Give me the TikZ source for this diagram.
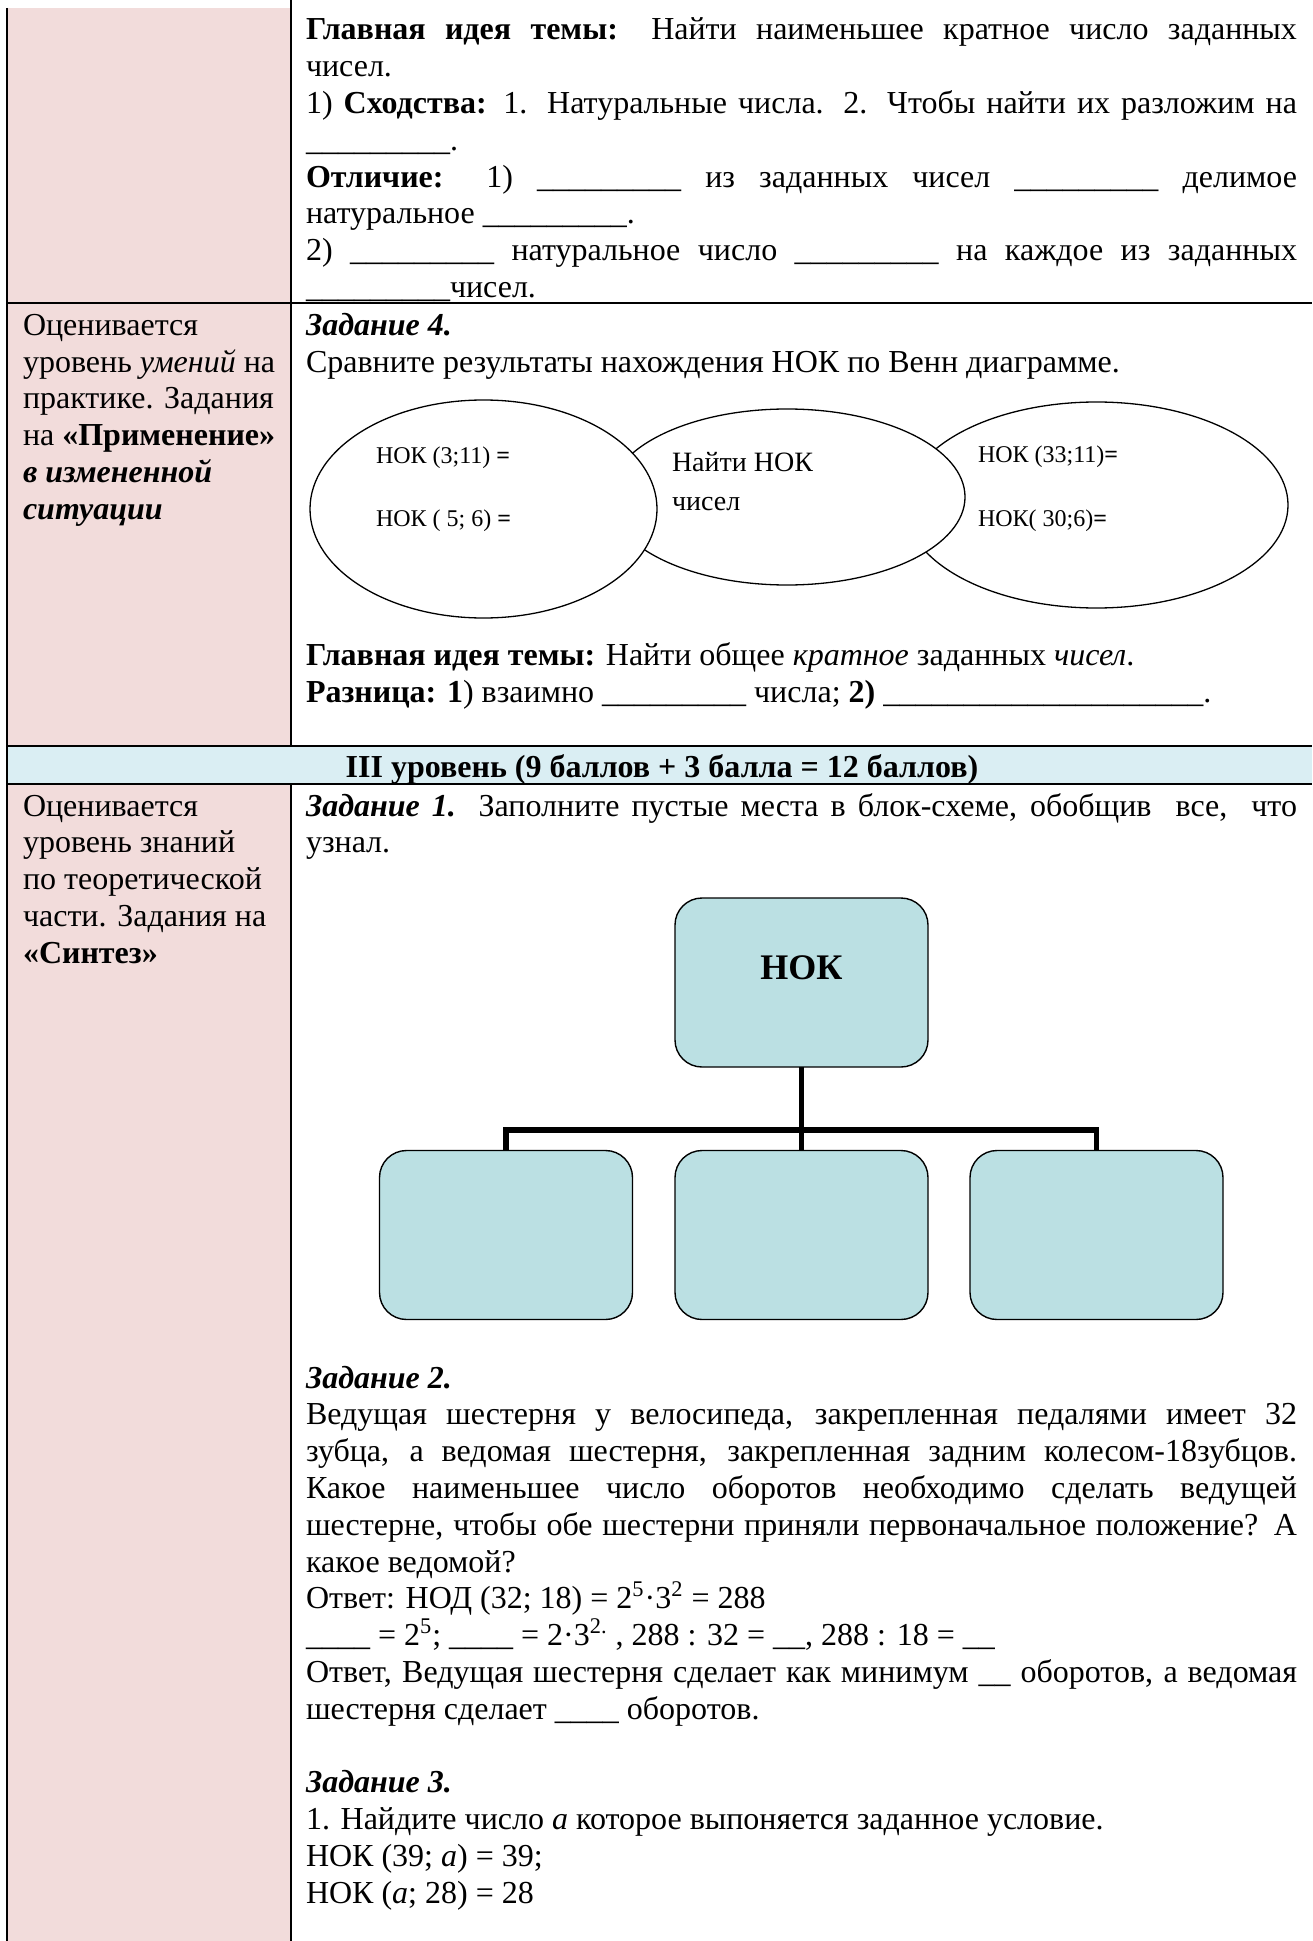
\documentclass[tikz,border=0pt]{standalone}
\usepackage{fontspec}
\setmainfont{Liberation Serif}
\usetikzlibrary{shapes.geometric}
\definecolor{cellpink}{HTML}{F2DCDB}
\definecolor{headblue}{HTML}{DAEEF3}
\definecolor{boxteal}{HTML}{BBE0E3}
\newcommand\mainfs{\fontsize{16pt}{18.4pt}\selectfont}
\newcommand\vennfs{\fontsize{12pt}{14pt}\selectfont}
% one justified line of the wide column
\newcommand\jl[1]{\hbox to 495.5pt{#1}}
% nine underscores, a blank to fill in
\newcommand\bl{\_\_\_\_\_\_\_\_\_}
\begin{document}
\begin{tikzpicture}[x=0.5pt, y=-0.5pt,
  txt/.style={anchor=base west, inner sep=0pt, outer sep=0pt, font=\mainfs},
  rule/.style={line width=0.75pt, black},
  venn/.style={ellipse, draw, fill=white, line width=0.65pt, inner sep=0pt, outer sep=0pt},
  vtxt/.style={anchor=base west, inner sep=0pt, outer sep=0pt, font=\vennfs},
  fbox/.style={rectangle, draw, fill=boxteal, line width=0.7pt, rounded corners=13.5pt,
               minimum width=126.5pt, minimum height=84.5pt, inner sep=0pt, outer sep=0pt},
  conn/.style={line width=2.7pt, black}]
\useasboundingbox (0,0) rectangle (1312,1941);

% table cells
\fill[cellpink] (7,8) rectangle (291,746);
\fill[cellpink] (7,784) rectangle (291,1941);
\fill[headblue] (7,746) rectangle (1312,784);
\draw[rule] (7,8) -- (7,1941);
\draw[rule] (291,0) -- (291,746);
\draw[rule] (291,784) -- (291,1941);
\draw[rule] (7,303) -- (1312,303);
\draw[rule] (7,746) -- (1312,746);
\draw[rule] (7,784) -- (1312,784);

% first row: end of the previous task
\node[txt] (a1) at (306,40) {\jl{\textbf{Главная идея темы:} Найти наименьшее кратное число заданных}};
\node[txt] (a2) at (306,76.8) {чисел.};
\node[txt] (a3) at (306,113.6) {\jl{1) \textbf{Сходства:} 1. Натуральные числа. 2. Чтобы найти их разложим на}};
\node[txt] (a4) at (306,150.4) {\bl.};
\node[txt] (a5) at (306,187.2) {\jl{\textbf{Отличие:} 1) \bl{} из заданных чисел \bl{} делимое}};
\node[txt] (a6) at (306,224) {натуральное \bl.};
\node[txt] (a7) at (306,260.8) {\jl{2) \bl{} натуральное число \bl{} на каждое из заданных}};
\node[txt] (a8) at (306,297.6) {\bl чисел.};

% second row
\node[txt] (b1) at (23,335.5) {Оценивается};
\node[txt] (b2) at (23,372.2) {уровень \textit{умений} на};
\node[txt] (b3) at (23,408.9) {практике. Задания};
\node[txt] (b4) at (23,445.6) {на \textbf{«Применение»}};
\node[txt] (b5) at (23,482.3) {\textbf{\textit{в измененной}}};
\node[txt] (b6) at (23,519) {\textbf{\textit{ситуации}}};

\node[txt] (c1) at (306,335.5) {\textbf{\textit{Задание 4.}}};
\node[txt] (c2) at (306,372.2) {Сравните результаты нахождения НОК по Венн диаграмме.};

% Venn diagram
\node[venn, minimum width=191.5pt, minimum height=103pt] (vr) at (1096.5,505) {};
\node[venn, minimum width=178pt, minimum height=88pt] (vm) at (787,497) {};
\node[venn, minimum width=173.5pt, minimum height=109pt] (vl) at (483.5,509) {};
\node[vtxt] (v1) at (376,464) {НОК (3;11) \textbf{=}};
\node[vtxt] (v2) at (376,526) {НОК ( 5; 6) \textbf{=}};
\node[txt, font=\fontsize{14pt}{16pt}\selectfont] (v3) at (672,472) {Найти НОК};
\node[txt, font=\fontsize{14pt}{16pt}\selectfont] (v4) at (672,510) {чисел};
\node[vtxt] (v5) at (978,463) {НОК (33;11)\textbf{=}};
\node[vtxt] (v6) at (978,526) {НОК( 30;6)\textbf{=}};

\node[txt] (c3) at (306,665.5) {\textbf{Главная идея темы:} Найти общее \textit{кратное} заданных \textit{чисел}.};
\node[txt] (c4) at (306,702.5) {\textbf{Разница: 1}) взаимно \bl{} числа; \textbf{2)} \bl\bl\_\_.};

% level header
\node[txt, anchor=base, font=\mainfs\bfseries] (hd) at (662,777) {III уровень (9 баллов + 3 балла = 12 баллов)};

% third row
\node[txt] (d1) at (23,816) {Оценивается};
\node[txt] (d2) at (23,852.8) {уровень знаний};
\node[txt] (d3) at (23,889.6) {по теоретической};
\node[txt] (d4) at (23,926.4) {части. Задания на};
\node[txt] (d5) at (23,963.2) {\textbf{«Синтез»}};

\node[txt] (e1) at (306,816) {\jl{\textbf{\textit{Задание 1.}} Заполните пустые места в блок-схеме, обобщив\ \ все,\ \ что}};
\node[txt] (e2) at (306,852.8) {узнал.};

% block scheme
\node[fbox] (nok) at (801.5,982.5) {};
\node[anchor=base, inner sep=0pt, font=\bfseries\fontsize{18pt}{20pt}\selectfont] (nokt) at (801.5,979) {НОК};
\node[fbox] (f1) at (506,1235) {};
\node[fbox] (f2) at (801.5,1235) {};
\node[fbox] (f3) at (1096.5,1235) {};
\coordinate (bar) at (801.5,1130);
\draw[conn] (nok.south) -- (f2.north);
\draw[conn] (f1.north) -- (f1.north |- bar) -- (f3.north |- bar) -- (f3.north);

% task 2
\node[txt] (g0) at (306,1388) {\textbf{\textit{Задание 2.}}};
\node[txt] (g1) at (306,1424.8) {\jl{Ведущая шестерня у велосипеда, закрепленная педалями имеет 32}};
\node[txt] (g2) at (306,1461.6) {\jl{зубца, а ведомая шестерня, закрепленная задним колесом-18зубцов.}};
\node[txt] (g3) at (306,1498.4) {\jl{Какое наименьшее число оборотов необходимо сделать ведущей}};
\node[txt] (g4) at (306,1535.2) {\jl{шестерне, чтобы обе шестерни приняли первоначальное положение? А}};
\node[txt] (g5) at (306,1572) {какое ведомой?};
\node[txt] (g6) at (306,1608.8) {Ответ: НОД (32; 18) = 2\textsuperscript{5}·3\textsuperscript{2} = 288};
\node[txt] (g7) at (306,1645.6) {\_\_\_\_ = 2\textsuperscript{5}; \_\_\_\_ = 2·3\textsuperscript{2.} , 288 : 32 = \_\_, 288 : 18 = \_\_};
\node[txt] (g8) at (306,1682.4) {\jl{Ответ, Ведущая шестерня сделает как минимум \_\_ оборотов, а ведомая}};
\node[txt] (g9) at (306,1719.2) {шестерня сделает \_\_\_\_ оборотов.};

% task 3
\node[txt] (h0) at (306,1792.8) {\textbf{\textit{Задание 3.}}};
\node[txt] (h1) at (306,1829.6) {1. Найдите число \textit{a} которое выпоняется заданное условие.};
\node[txt] (h2) at (306,1866.4) {НОК (39; \textit{a}) = 39;};
\node[txt] (h3) at (306,1903.2) {НОК (\textit{a}; 28) = 28};
\end{tikzpicture}
\end{document}
